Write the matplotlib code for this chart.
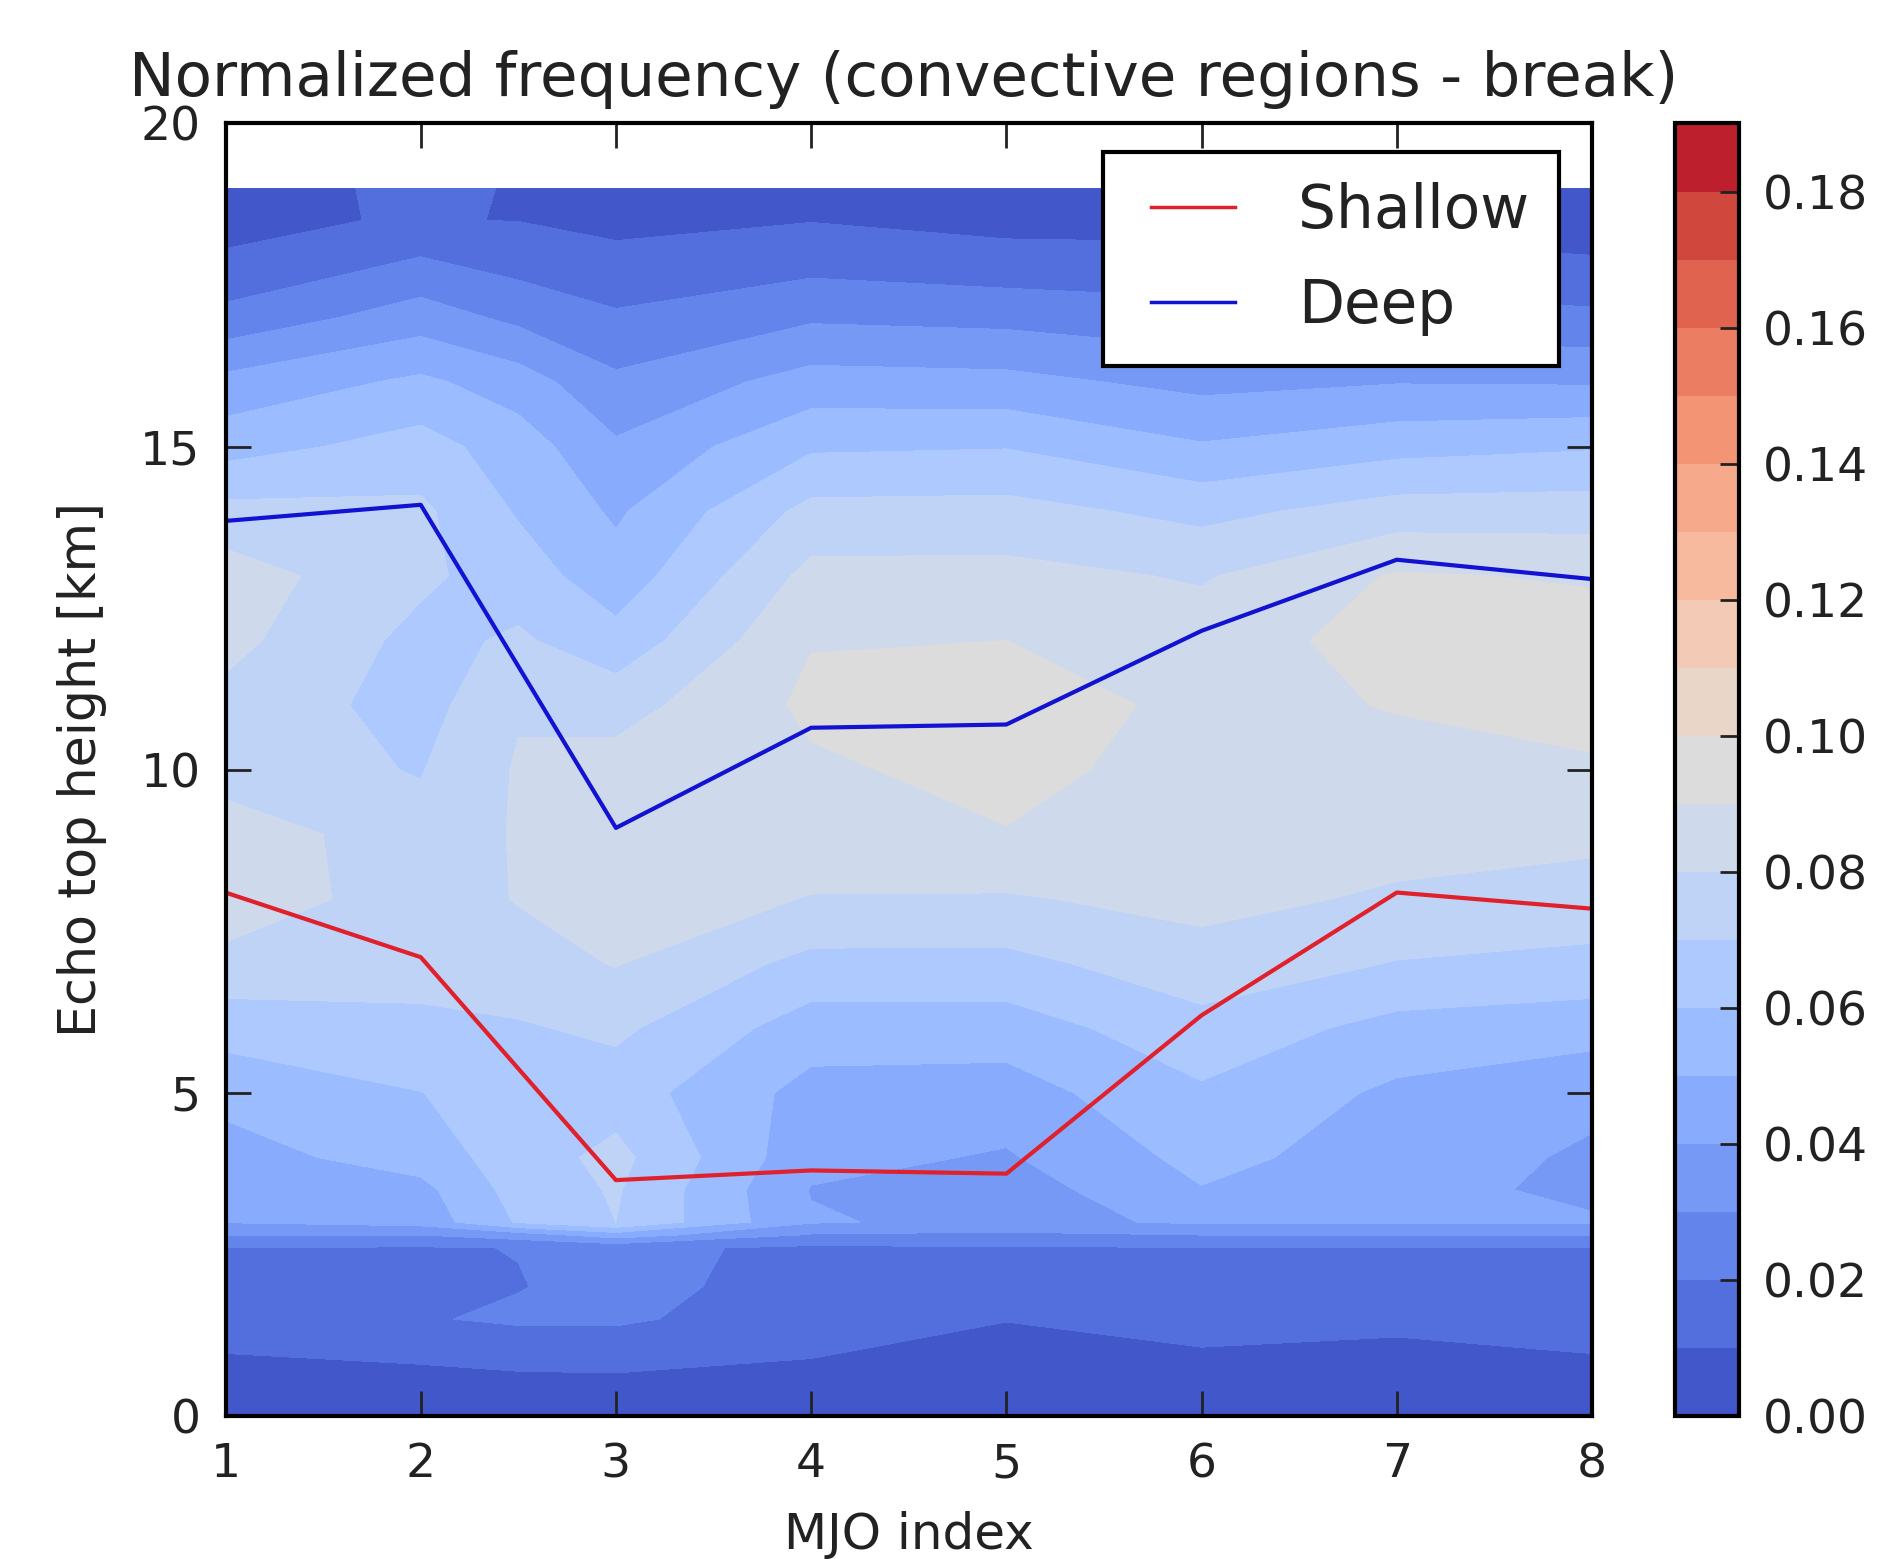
import numpy as np
import matplotlib
matplotlib.use('Agg')
import matplotlib.pyplot as plt

# grid, values in units of 0.01
mjo_index = [1, 2, 3, 4, 5, 6, 7, 8]
grid_x = [1, 2, 2.5, 3, 4, 5, 6, 7, 8]
heights = [0, 1, 1.5, 2, 2.6, 2.8, 3, 3.5, 4, 5, 6, 7, 8, 9, 10, 11, 12, 13, 14, 15, 16, 17, 18, 18.5, 19]

mjo1 = [.4, 1.02, 1.3, 1.6, 1.98, 3.0, 4.05, 4.3, 4.6, 5.3, 6.4, 7.7, 8.6, 8.7, 7.4, 7.7, 8.3, 8.5, 7.3, 5.6, 4.3, 2.3, 1.01, .93, .9]
mjo2 = [.6, 1.1, 1.9, 1.65, 1.9, 3.0, 4.4, 4.7, 5.45, 5.98, 6.75, 7.4, 7.5, 7.3, 6.95, 6.6, 6.7, 7.2, 7.2, 6.4, 5.2, 3.5, 1.9, 1.03, 1.05]
mjo25 = [.55, 1.2, 2.2, 1.95, 2.03, 3.5, 6.1, 6.4, 6.5, 6.5, 6.9, 7.6, 8.05, 8.1, 8.1, 7.9, 7.15, 6.5, 5.9, 5.5, 4.5, 2.75, 1.45, .985, .985]
mjo3 = [.5, 1.25, 2.2, 2.4, 2.25, 4.5, 7.0, 7.1, 7.3, 6.5, 7.2, 8.05, 8.6, 8.7, 8.4, 7.6, 6.35, 5.4, 4.85, 4.15, 3.2, 2.15, 1.06, .9, .9]
mjo4 = [.6, 1.05, 1.3, 1.5, 1.8, 2.9, 4.1, 3.95, 4.3, 4.65, 5.5, 6.7, 7.95, 8.6, 8.85, 9.2, 8.95, 8.3, 7.3, 5.85, 4.4, 2.85, 1.45, .97, .7]
mjo5 = [.7, .8, 1.02, 1.4, 1.9, 2.8, 3.7, 3.5, 3.9, 4.55, 5.5, 6.7, 7.9, 8.95, 9.3, 9.6, 9.0, 8.3, 7.35, 5.95, 4.3, 2.7, 1.15, .8, .7]
mjo6 = [.6, .97, 1.2, 1.45, 1.95, 3.0, 4.15, 4.95, 5.3, 5.85, 6.65, 7.6, 8.3, 8.55, 8.6, 8.7, 8.5, 7.9, 6.7, 5.1, 3.7, 2.4, 1.1, .8, .7]
mjo7 = [.4, .88, 1.15, 1.45, 1.95, 3.0, 4.1, 4.3, 4.5, 4.8, 5.65, 6.95, 7.85, 8.4, 8.7, 9.05, 9.4, 9.1, 7.45, 5.65, 3.95, 2.4, 1.2, .8, .7]
mjo8 = [.4, 1.02, 1.3, 1.6, 1.98, 3.0, 4.1, 3.8, 3.85, 4.25, 5.4, 6.7, 7.65, 8.2, 8.85, 9.4, 9.4, 8.9, 7.5, 5.9, 3.9, 2.2, .95, .8, .7]

shallow = [8.1, 7.1, 3.65, 3.8, 3.75, 6.2, 8.1, 7.85]
deep = [13.85, 14.1, 9.1, 10.65, 10.7, 12.15, 13.25, 12.95]

W, H = 1880.0, 1559.0
dark = '#222222'

freq = np.column_stack([mjo1, mjo2, mjo25, mjo3, mjo4, mjo5, mjo6, mjo7, mjo8]) / 100.0
levels = np.arange(0, 0.195, 0.01)

fig = plt.figure(figsize=(W / 100, H / 100), dpi=100)
ax = fig.add_axes([225.5 / W, 1 - 1416 / H, (1592 - 225.5) / W, (1416 - 123.5) / H])
cf = ax.contourf(grid_x, heights, freq, levels=levels, cmap='coolwarm')
ax.plot(mjo_index, shallow, color='#e0202a', lw=3, label='Shallow')
ax.plot(mjo_index, deep, color='#1212d2', lw=3, label='Deep')

ax.set_xlim(1, 8)
ax.set_ylim(0, 20)
ax.set_xticks(mjo_index)
ax.set_yticks([0, 5, 10, 15, 20])
ax.tick_params(direction='in', top=True, right=True, length=18, width=2, labelsize=34, color=dark, labelcolor=dark)
ax.tick_params(axis='x', pad=19)
ax.tick_params(axis='y', pad=18)
for s in ax.spines.values():
    s.set_linewidth(3)
ax.set_xlabel('MJO index', fontsize=36, labelpad=17, color=dark)
ax.set_ylabel('Echo top height [km]', fontsize=36.5, labelpad=24, color=dark)
ax.set_title('Normalized frequency (convective regions - break)', fontsize=44, pad=20, color=dark, x=0.4965)

leg = ax.legend(loc='upper right', fontsize=43, fancybox=False, framealpha=1, edgecolor='black',
                borderaxespad=0, numpoints=2, handlelength=2.02, handletextpad=0.75, labelspacing=0.6,
                borderpad=0.5, labelcolor=dark)
leg.get_frame().set_linewidth(3)
# legend box corner sits in from the axes corner
leg.set_bbox_to_anchor((1559 / W, 1 - 152 / H), transform=fig.transFigure)
for line in leg.get_lines():
    line.set_linewidth(2.5)

cax = fig.add_axes([1675 / W, 1 - 1416 / H, (1739 - 1675) / W, (1416 - 123.5) / H])
cb = fig.colorbar(cf, cax=cax, ticks=np.arange(0, 0.19, 0.02), format='%.2f')
cb.ax.tick_params(direction='in', length=14, width=2, labelsize=34, pad=17.5, color=dark, labelcolor=dark)
cb.outline.set_linewidth(3)

fig.savefig('out.png', dpi=100)
